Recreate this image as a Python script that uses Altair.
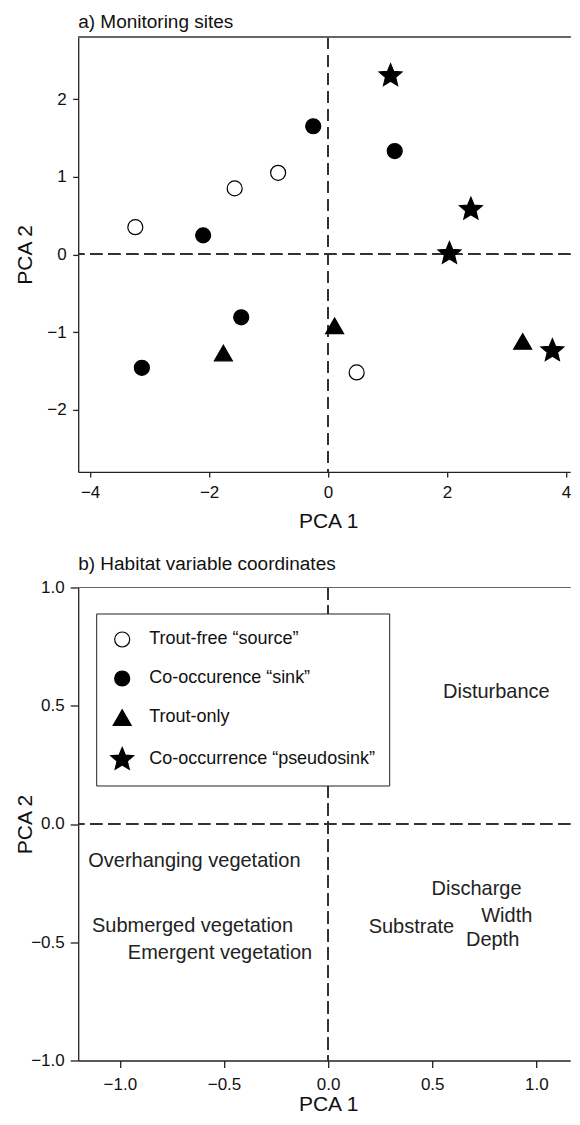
import altair as alt
import pandas as pd

FONT = "Liberation Sans"

# ---------------- data ----------------
categories = ["Trout-free \u201csource\u201d", "Co-occurence \u201csink\u201d",
              "Trout-only", "Co-occurrence \u201cpseudosink\u201d"]

site_type = [categories[0]] * 4 + [categories[1]] * 5 + [categories[2]] * 3 + [categories[3]] * 4
site_pca1 = [-3.24, -1.57, -0.84, 0.48,
             -2.10, -0.25, 1.12, -1.46, -3.13,
             -1.76, 0.11, 3.27,
             1.05, 2.40, 2.04, 3.77]
site_pca2 = [0.35, 0.85, 1.05, -1.52,
             0.245, 1.65, 1.33, -0.81, -1.46,
             -1.27, -0.92, -1.12,
             2.30, 0.58, 0.01, -1.24]

var_names = ["Disturbance", "Overhanging vegetation", "Discharge", "Width",
             "Substrate", "Depth", "Submerged vegetation", "Emergent vegetation"]
var_pca1 = [0.808, -0.642, 0.713, 0.858, 0.40, 0.79, -0.651, -0.519]
var_pca2 = [0.56, -0.155, -0.275, -0.39, -0.435, -0.49, -0.432, -0.546]

top_x_ticks = [-4, -2, 0, 2, 4]
top_y_ticks = [-2, -1, 0, 1, 2]
bot_ticks = [-1.0, -0.5, 0.0, 0.5, 1.0]

# ---------------- layout / styles ----------------
W = 492
H1 = 435
H2 = 473
DASH = [12, 6]
LINE = "#333"
SYM = 576

circle = ("M0.625,0C0.625,0.3452,0.3452,0.625,0,0.625C-0.3452,0.625,-0.625,0.3452,-0.625,0"
          "C-0.625,-0.3452,-0.3452,-0.625,0,-0.625C0.3452,-0.625,0.625,-0.3452,0.625,0Z")
triangle = "M0,-0.65L0.75,0.65L-0.75,0.65Z"
star = ("M0,-1L0.2645,-0.364L0.951,-0.309L0.428,0.139L0.588,0.809L0,0.45"
        "L-0.588,0.809L-0.428,0.139L-0.951,-0.309L-0.2645,-0.364Z")

sites = pd.DataFrame({"type": site_type, "pca1": site_pca1, "pca2": site_pca2})
vars_df = pd.DataFrame({"name": var_names, "pca1": var_pca1, "pca2": var_pca2})

shape_sc = alt.Scale(domain=categories, range=[circle, circle, triangle, star])
fill_sc = alt.Scale(domain=categories, range=["white", "black", "black", "black"])
stroke_sc = alt.Scale(domain=categories, range=["black", "black", "black", "black"])

legend = alt.Legend(title=None, orient="none", legendX=18, legendY=26,
                    fillColor="white", strokeColor="#222", padding=13,
                    rowPadding=16, labelOffset=14, labelFontSize=18,
                    labelFont=FONT, labelColor="#111", symbolSize=SYM,
                    symbolStrokeWidth=1.2, labelLimit=400)

# ---------------- top panel ----------------
x1 = alt.Scale(domain=[-4.2, 4.069], nice=False, zero=False)
y1 = alt.Scale(domain=[-2.8, 2.8], nice=False, zero=False)

base_top = alt.Chart(sites)

vline1 = base_top.mark_rule(strokeDash=DASH, color=LINE, strokeWidth=1.3).encode(
    x=alt.X(datum=0, scale=x1))
hline1 = base_top.mark_rule(strokeDash=DASH, color=LINE, strokeWidth=1.3).encode(
    y=alt.Y(datum=0, scale=y1))
border1 = base_top.mark_rule(color="#666", strokeWidth=1.2).encode(
    x=alt.value(0), x2=alt.value(W), y=alt.value(0))

points = base_top.mark_point(filled=True, size=SYM, strokeWidth=1.2, opacity=1).encode(
    x=alt.X("pca1:Q", scale=x1,
            axis=alt.Axis(values=top_x_ticks, format="d", title="PCA 1", tickSize=5,
                          labelPadding=8, titleX=250, titleY=56,
                          titleBaseline="alphabetic", titleAlign="center")),
    y=alt.Y("pca2:Q", scale=y1,
            axis=alt.Axis(values=top_y_ticks, format="d", title="PCA 2", tickSize=5.5,
                          labelPadding=6.5, titleX=-47, titleY=H1 / 2, titleAngle=270,
                          titleBaseline="alphabetic", titleAlign="center")),
    shape=alt.Shape("type:N", scale=shape_sc, legend=None),
    fill=alt.Fill("type:N", scale=fill_sc, legend=None),
    stroke=alt.Stroke("type:N", scale=stroke_sc, legend=None),
)

top = alt.layer(vline1, hline1, border1, points).properties(
    width=W, height=H1, title=alt.Title("a) Monitoring sites", offset=4))

# ---------------- bottom panel ----------------
x2 = alt.Scale(domain=[-1.2, 1.1625], nice=False, zero=False)
y2 = alt.Scale(domain=[-1.0, 1.0], nice=False, zero=False)

xenc2 = alt.X("pca1:Q", scale=x2,
              axis=alt.Axis(values=bot_ticks, format=".1f", title="PCA 1", tickSize=7,
                            labelPadding=9, titleX=250, titleY=50.5,
                            titleBaseline="alphabetic", titleAlign="center"))
yenc2 = alt.Y("pca2:Q", scale=y2,
              axis=alt.Axis(values=bot_ticks, format=".1f", title="PCA 2", tickSize=8,
                            labelPadding=6, titleX=-47, titleY=H2 / 2, titleAngle=270,
                            titleBaseline="alphabetic", titleAlign="center"))

base_bot = alt.Chart(vars_df)

vline2 = base_bot.mark_rule(strokeDash=DASH, color=LINE, strokeWidth=1.3).encode(
    x=alt.X(datum=0, scale=x2))
hline2 = base_bot.mark_rule(strokeDash=DASH, color=LINE, strokeWidth=1.3).encode(
    y=alt.Y(datum=0, scale=y2))
border2 = base_bot.mark_rule(color="#666", strokeWidth=1.2).encode(
    x=alt.value(0), x2=alt.value(W), y=alt.value(0))

labels = base_bot.mark_text(font=FONT, fontSize=20, color="#222",
                            align="center", baseline="middle").encode(
    x=xenc2, y=yenc2, text="name:N")

# legend carrier: site categories (no marks drawn), legend shown in panel b
legend_layer = alt.Chart(sites).transform_filter("false").mark_point(
    filled=True, size=SYM, strokeWidth=1.2, opacity=1).encode(
    x=xenc2, y=yenc2,
    shape=alt.Shape("type:N", scale=shape_sc, legend=legend),
    fill=alt.Fill("type:N", scale=fill_sc, legend=legend),
    stroke=alt.Stroke("type:N", scale=stroke_sc, legend=legend),
)

bottom = alt.layer(vline2, hline2, border2, labels, legend_layer).properties(
    width=W, height=H2, title=alt.Title("b) Habitat variable coordinates", offset=4))

chart = alt.vconcat(top, bottom, spacing=23.6).resolve_scale(
    shape="independent", fill="independent", stroke="independent"
).resolve_legend(
    shape="independent", fill="independent", stroke="independent"
).properties(
    padding={"left": 6.2, "top": 4.9, "right": 0, "bottom": 0}
).configure_view(stroke=None).configure_axis(
    labelFont=FONT, titleFont=FONT, labelFontSize=17, titleFontSize=21,
    titleFontWeight="normal", labelColor="#111", titleColor="#111",
    domainColor="#222", tickColor="#222", domainWidth=1.3, tickWidth=1.3,
    grid=False, labelFlush=False, labelOverlap=False
).configure_title(
    font=FONT, fontSize=19, fontWeight="normal", anchor="start", frame="group",
    color="#111"
)

chart.save("out.html", embed_options={"renderer": "svg", "actions": False})
